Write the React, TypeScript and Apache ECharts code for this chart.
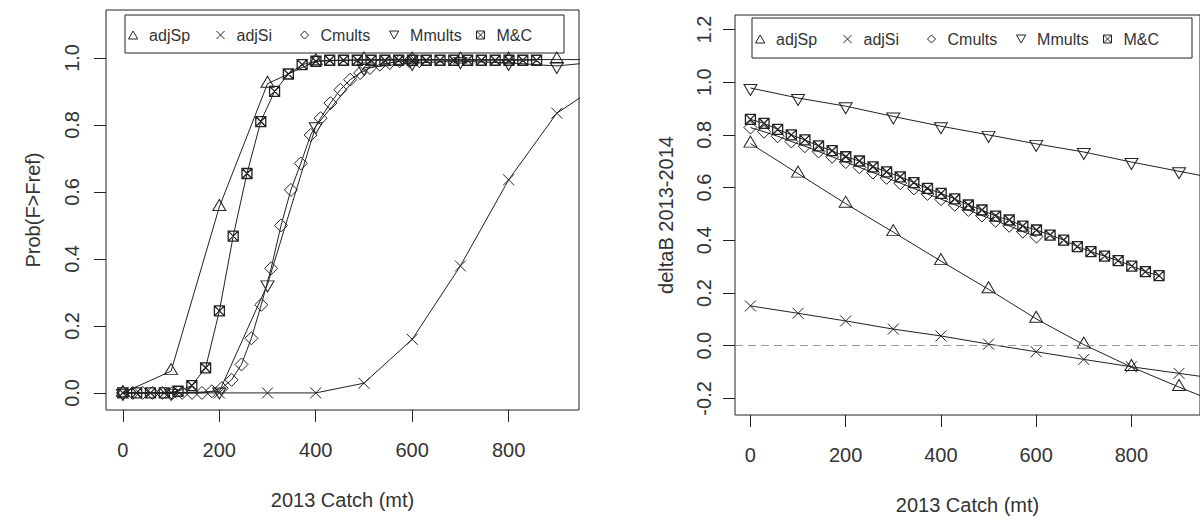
import React, { useEffect, useRef } from 'react';
import * as echarts from 'echarts';

const FONT = '"Liberation Sans", Arial, Helvetica, sans-serif';
const INK = '#222';
const TEXT = '#333';

const seriesNames = ['adjSp', 'adjSi', 'Cmults', 'Mmults', 'M&C'];

const xTicks = [0, 200, 400, 600, 800];
const probTicks = [0, 0.2, 0.4, 0.6, 0.8, 1.0];
const deltaTicks = [-0.2, 0, 0.2, 0.4, 0.6, 0.8, 1.0, 1.2];

const xTitle = '2013 Catch (mt)';
const probTitle = 'Prob(F>Fref)';
const deltaTitle = 'deltaB 2013-2014';

// catch levels (mt)
const catchBy100 = [0, 100, 200, 300, 400, 500, 600, 700, 800, 900, 1000];
const catchMC = [0, 28.6, 57.2, 85.8, 114.4, 143, 171.6, 200.2, 228.8, 257.4, 286, 314.6, 343.2, 371.8, 400.4, 429, 457.6, 486.2, 514.8, 543.4, 572, 600.6, 629.2, 657.8, 686.4, 715, 743.6, 772.2, 800.8, 829.4, 858];
const catchCmultsProb = [0, 20.5, 41, 61.5, 82, 102.5, 123, 143.5, 164, 184.5, 205, 225.5, 246, 266.5, 287, 307.5, 328, 348.5, 369, 389.5, 410, 430.5, 451, 471.5, 492, 512.5, 533, 553.5, 574, 594.5, 615];
const catchCmultsDelta = [0, 28.6, 57.2, 85.8, 114.4, 143, 171.6, 200.2, 228.8, 257.4, 286, 314.6, 343.2, 371.8, 400.4, 429, 457.6, 486.2, 514.8, 543.4, 572, 600.6];

// Left panel: Prob(F>Fref)
const probAdjSp = [0, 0.065, 0.555, 0.923, 0.99, 0.995, 0.995, 0.995, 0.995, 0.995, 0.995];
const probAdjSi = [0, 0, 0, 0, 0, 0.029, 0.16, 0.379, 0.636, 0.835, 0.93];
const probMmults = [0, 0, 0.004, 0.324, 0.796, 0.97, 0.985, 0.99, 0.985, 0.976, 0.99];
const probCmults = [0, 0, 0, 0, 0, 0, 0, 0, 0, 0.005, 0.014, 0.039, 0.085, 0.163, 0.263, 0.372, 0.5, 0.606, 0.685, 0.77, 0.82, 0.865, 0.905, 0.935, 0.955, 0.97, 0.98, 0.985, 0.99, 0.99, 0.99];
const probMC = [0, 0, 0, 0, 0.005, 0.022, 0.075, 0.245, 0.468, 0.655, 0.81, 0.9, 0.952, 0.98, 0.99, 0.993, 0.993, 0.993, 0.993, 0.993, 0.993, 0.993, 0.993, 0.993, 0.993, 0.993, 0.993, 0.993, 0.993, 0.993, 0.993];

// Right panel: deltaB 2013-2014
const deltaAdjSp = [0.767, 0.653, 0.539, 0.431, 0.321, 0.214, 0.102, 0.004, -0.081, -0.157, -0.23];
const deltaAdjSi = [0.151, 0.123, 0.094, 0.063, 0.037, 0.006, -0.023, -0.052, -0.08, -0.105, -0.13];
const deltaMmults = [0.978, 0.94, 0.909, 0.87, 0.833, 0.8, 0.766, 0.735, 0.697, 0.662, 0.627];
const deltaCmults = [0.828, 0.812, 0.795, 0.775, 0.757, 0.737, 0.717, 0.697, 0.677, 0.657, 0.637, 0.617, 0.597, 0.576, 0.556, 0.535, 0.515, 0.494, 0.474, 0.455, 0.433, 0.414];
const deltaMC = [0.859, 0.844, 0.821, 0.8, 0.781, 0.758, 0.74, 0.717, 0.701, 0.679, 0.66, 0.641, 0.619, 0.597, 0.578, 0.557, 0.534, 0.515, 0.492, 0.477, 0.454, 0.439, 0.42, 0.401, 0.376, 0.357, 0.34, 0.323, 0.302, 0.281, 0.266];

const SYMBOL: Record<string, string> = {
  adjSp: 'path://M5,0L10,8.66L0,8.66Z',
  adjSi: 'path://M0,0L10,10M10,0L0,10',
  Cmults: 'path://M5,0L10,5L5,10L0,5Z',
  Mmults: 'path://M0,0L10,0L5,8.66Z',
  'M&C': 'path://M0,0L10,0L10,10L0,10ZM0,0L10,10M10,0L0,10',
};
const SYMBOL_SIZE: Record<string, number[]> = {
  adjSp: [13, 11],
  adjSi: [11, 11],
  Cmults: [13, 13],
  Mmults: [13, 11],
  'M&C': [10, 10],
};
const SYMBOL_OFFSET: Record<string, number[]> = {
  adjSp: [0, -2],
  adjSi: [0, 0],
  Cmults: [0, 0],
  Mmults: [0, 2],
  'M&C': [0, 0],
};

const legendOffsets = [14, 102, 186, 275, 362];

function makeSeries(name: string, panel: number, xs: number[], ys: number[], extra: any = {}) {
  return {
    type: 'line',
    name,
    xAxisIndex: panel,
    yAxisIndex: panel,
    data: xs.map((x, i) => [x, ys[i]]),
    symbol: SYMBOL[name],
    symbolSize: SYMBOL_SIZE[name],
    symbolOffset: SYMBOL_OFFSET[name],
    symbolKeepAspect: false,
    showAllSymbol: true,
    clip: true,
    lineStyle: { color: INK, width: 1 },
    itemStyle: { color: 'transparent', borderColor: INK, borderWidth: name === 'M&C' ? 1.3 : 1 },
    emphasis: { disabled: true },
    ...extra,
  };
}

function xAxis(gridIndex: number, min: number, max: number) {
  return {
    type: 'value',
    gridIndex,
    min,
    max,
    axisLine: { show: false, onZero: false },
    splitLine: { show: false },
    axisTick: { show: true, inside: false, length: 12, customValues: xTicks, lineStyle: { color: INK, width: 1 } },
    axisLabel: {
      customValues: xTicks,
      margin: 30,
      fontSize: 20,
      fontFamily: FONT,
      color: TEXT,
      formatter: (v: number) => String(v),
    },
    name: xTitle,
    nameLocation: 'middle',
    nameGap: 80,
    nameTextStyle: { fontSize: 20, fontFamily: FONT, color: TEXT },
  };
}

function yAxis(gridIndex: number, min: number, max: number, ticks: number[], title: string, margin: number, nameGap: number) {
  return {
    type: 'value',
    gridIndex,
    min,
    max,
    axisLine: { show: false, onZero: false },
    splitLine: { show: false },
    axisTick: { show: true, inside: false, length: 12, customValues: ticks, lineStyle: { color: INK, width: 1 } },
    axisLabel: {
      customValues: ticks,
      rotate: 90,
      margin,
      fontSize: 20,
      fontFamily: FONT,
      color: TEXT,
      formatter: (v: number) => v.toFixed(1),
    },
    name: title,
    nameLocation: 'middle',
    nameGap,
    nameTextStyle: { fontSize: 20, fontFamily: FONT, color: TEXT },
  };
}

function makeLegends(boxLeft: number, centerY: number) {
  return seriesNames.map((name, i) => ({
    show: true,
    orient: 'horizontal',
    left: boxLeft + legendOffsets[i] - 11,
    top: centerY - 8,
    padding: 0,
    itemWidth: 22,
    itemHeight: 8,
    itemGap: 0,
    selectedMode: false,
    data: [{ name, icon: SYMBOL[name] }],
    itemStyle: { color: 'transparent', borderColor: INK, borderWidth: 1 },
    textStyle: { fontSize: 16, fontFamily: FONT, color: TEXT },
  }));
}

export default function App() {
  const ref = useRef<HTMLDivElement>(null);

  useEffect(() => {
    if (!ref.current) return;
    const chart = echarts.init(ref.current, null, { renderer: 'svg' });
    const option: any = {
      animation: false,
      backgroundColor: '#ffffff',
      grid: [
        { left: 106, top: 10, width: 473, height: 400, show: true, borderColor: INK, borderWidth: 1, backgroundColor: 'transparent' },
        { left: 735, top: 15, width: 473, height: 400, show: true, borderColor: INK, borderWidth: 1, backgroundColor: 'transparent' },
      ],
      xAxis: [xAxis(0, -35, 946), xAxis(1, -32.4, 944)],
      yAxis: [
        yAxis(0, -0.051, 1.143, probTicks, probTitle, 24, 63),
        yAxis(1, -0.263, 1.255, deltaTicks, deltaTitle, 21, 59),
      ],
      legend: [...makeLegends(125, 35), ...makeLegends(752, 39)],
      graphic: [
        { type: 'rect', shape: { x: 125, y: 15, width: 439, height: 38 }, style: { fill: 'none', stroke: INK, lineWidth: 1 }, z: 10 },
        { type: 'rect', shape: { x: 752, y: 18, width: 440, height: 40 }, style: { fill: 'none', stroke: INK, lineWidth: 1 }, z: 10 },
      ],
      series: [
        makeSeries('adjSp', 0, catchBy100, probAdjSp),
        makeSeries('adjSi', 0, catchBy100, probAdjSi),
        makeSeries('Cmults', 0, catchCmultsProb, probCmults),
        makeSeries('Mmults', 0, catchBy100, probMmults),
        makeSeries('M&C', 0, catchMC, probMC),
        makeSeries('adjSp', 1, catchBy100, deltaAdjSp),
        makeSeries('adjSi', 1, catchBy100, deltaAdjSi, {
          markLine: {
            silent: true,
            symbol: 'none',
            label: { show: false },
            lineStyle: { type: [8, 5], color: '#999', width: 1 },
            emphasis: { disabled: true },
            data: [{ yAxis: 0 }],
          },
        }),
        makeSeries('Cmults', 1, catchCmultsDelta, deltaCmults),
        makeSeries('Mmults', 1, catchBy100, deltaMmults),
        makeSeries('M&C', 1, catchMC, deltaMC),
      ],
    };
    chart.setOption(option);
    return () => chart.dispose();
  }, []);

  return (
    <div
      ref={ref}
      style={{ position: 'absolute', left: 0, top: 0, width: 1200, height: 523, background: '#fff' }}
    />
  );
}
